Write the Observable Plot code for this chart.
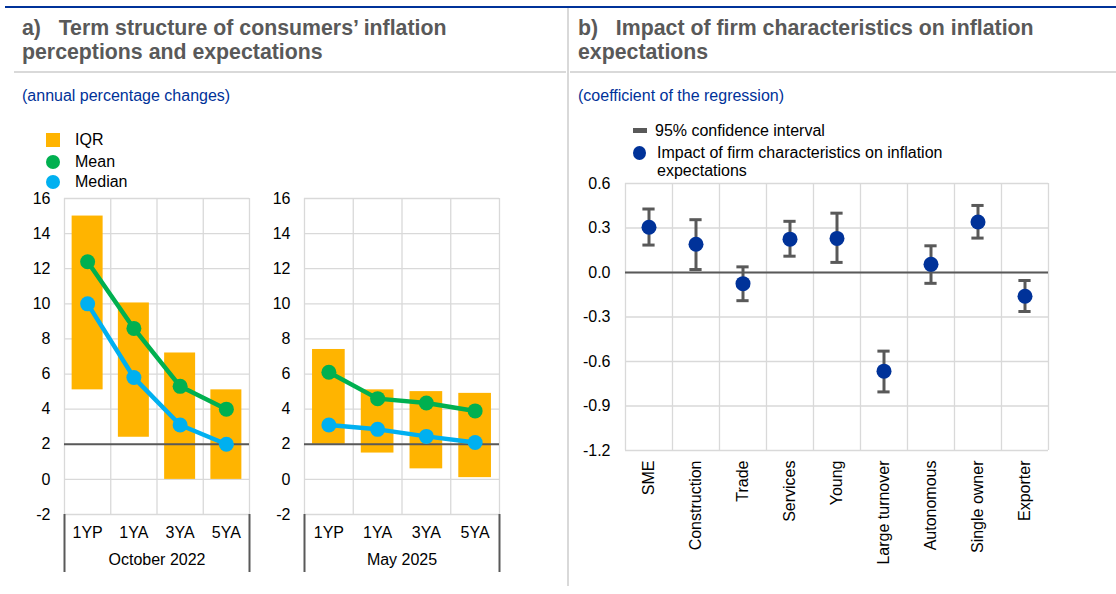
<!DOCTYPE html>
<html><head><meta charset="utf-8">
<script src="https://cdn.jsdelivr.net/npm/d3@7"></script>
<script src="https://cdn.jsdelivr.net/npm/@observablehq/plot@0.6"></script>
<style>
body{margin:0;background:#fff;font-family:"Liberation Sans",Arial,sans-serif;}
#root{position:relative;width:1116px;height:594px;overflow:hidden;background:#fff;}
.abs{position:absolute;}
.title{font-weight:bold;font-size:21.3px;color:#595959;line-height:24px;white-space:nowrap;}
.sub{font-size:16px;color:#003299;line-height:18px;white-space:nowrap;}
.leg{font-size:16px;color:#000;line-height:18px;white-space:nowrap;}
</style></head>
<body><div id="root">
<div class="abs" style="left:5px;top:6px;width:1111px;height:2px;background:#003299"></div>
<div class="abs" style="left:567px;top:8px;width:2px;height:578px;background:#d9d9d9"></div>
<div class="abs" style="left:14px;top:71px;width:552px;height:2px;background:#d9d9d9"></div>
<div class="abs" style="left:570px;top:71px;width:546px;height:2px;background:#d9d9d9"></div>
<div class="abs title" style="left:22px;top:16px">a)&nbsp;&nbsp;&nbsp;Term structure of consumers’ inflation<br>perceptions and expectations</div>
<div class="abs title" style="left:578px;top:16px">b)&nbsp;&nbsp;&nbsp;Impact of firm characteristics on inflation<br>expectations</div>
<div class="abs sub" style="left:22px;top:87px">(annual percentage changes)</div>
<div class="abs sub" style="left:578px;top:87px">(coefficient of the regression)</div>

<div class="abs" style="left:46px;top:133px;width:14px;height:14px;background:#FFB400"></div>
<div class="abs leg" style="left:75px;top:131px">IQR</div>
<div class="abs" style="left:46px;top:155px;width:14px;height:14px;border-radius:50%;background:#00B050"></div>
<div class="abs leg" style="left:75px;top:153px">Mean</div>
<div class="abs" style="left:46px;top:175px;width:14px;height:14px;border-radius:50%;background:#00B0F0"></div>
<div class="abs leg" style="left:75px;top:173px">Median</div>

<div class="abs" style="left:633px;top:128px;width:14px;height:5px;background:#595959"></div>
<div class="abs leg" style="left:655px;top:122px">95% confidence interval</div>
<div class="abs" style="left:633px;top:146px;width:13px;height:14px;border-radius:50%;background:#003299"></div>
<div class="abs leg" style="left:657px;top:144px">Impact of firm characteristics on inflation<br>expectations</div>

<div id="pa1" class="abs" style="left:0px;top:180px"></div>
<div id="pa2" class="abs" style="left:262px;top:180px"></div>
<div id="pb" class="abs" style="left:570px;top:170px"></div>
</div>
<script>
// ---- Panel a data ----
const terms = ["1YP", "1YA", "3YA", "5YA"];
const periods = ["October 2022", "May 2025"];
const yTicksA = [-2, 0, 2, 4, 6, 8, 10, 12, 14, 16];
const targetLine = 2;
const oct22IqrLow = [5.1, 2.4, 0.0, 0.0];
const oct22IqrHigh = [15.0, 10.05, 7.2, 5.1];
const oct22Mean = [12.4, 8.6, 5.3, 4.0];
const oct22Median = [10.0, 5.8, 3.1, 2.0];
const may25IqrLow = [2.0, 1.5, 0.6, 0.1];
const may25IqrHigh = [7.4, 5.1, 5.0, 4.9];
const may25Mean = [6.1, 4.6, 4.35, 3.9];
const may25Median = [3.1, 2.85, 2.45, 2.1];

// ---- Panel b data ----
const firmChars = ["SME", "Construction", "Trade", "Services", "Young", "Large turnover", "Autonomous", "Single owner", "Exporter"];
const coef = [0.305, 0.19, -0.075, 0.225, 0.23, -0.665, 0.055, 0.34, -0.16];
const ciLow = [0.185, 0.02, -0.19, 0.11, 0.068, -0.805, -0.073, 0.232, -0.263];
const ciHigh = [0.428, 0.356, 0.038, 0.345, 0.40, -0.53, 0.18, 0.452, -0.054];
const yTicksB = [-1.2, -0.9, -0.6, -0.3, 0, 0.3, 0.6];

const barHalf = 0.335;
const capHalf = 0.13;
const font = "Liberation Sans, Arial, sans-serif";

function termPanel(lo, hi, mean, median, period, width, marginLeft) {
  const n = terms.length;
  const idx = d3.range(n);
  const rows = idx.map(i => ({i, lo: lo[i], hi: hi[i], mean: mean[i], median: median[i]}));
  const edges = d3.range(n + 1).map(k => k - 0.5);
  const outer = [edges[0], edges[n]];
  return Plot.plot({
    width, height: 400, marginTop: 18, marginBottom: 66, marginLeft, marginRight: 13,
    x: {type: "linear", domain: [-0.5, n - 0.5]},
    y: {domain: [-2, 16]},
    style: {fontFamily: font, fontSize: "16px", color: "#000", background: "transparent", overflow: "visible"},
    marks: [
      Plot.ruleY(yTicksA, {stroke: "#d9d9d9", strokeWidth: 1.3}),
      Plot.ruleX(edges, {stroke: "#d9d9d9", strokeWidth: 1.3}),
      Plot.rect(rows, {x1: d => d.i - barHalf, x2: d => d.i + barHalf, y1: "lo", y2: "hi", fill: "#FFB400"}),
      Plot.ruleY([targetLine], {stroke: "#595959", strokeWidth: 2}),
      Plot.line(rows, {x: "i", y: "mean", stroke: "#00B050", strokeWidth: 4.5}),
      Plot.dot(rows, {x: "i", y: "mean", r: 7.5, fill: "#00B050"}),
      Plot.line(rows, {x: "i", y: "median", stroke: "#00B0F0", strokeWidth: 4.5}),
      Plot.dot(rows, {x: "i", y: "median", r: 7.5, fill: "#00B0F0"}),
      Plot.axisY(yTicksA, {tickSize: 0, tickPadding: 14, tickFormat: d => String(d), label: null, fontSize: 16}),
      Plot.axisX(outer, {tickSize: 58, stroke: "#595959", strokeWidth: 2, tickFormat: () => "", label: null}),
      Plot.axisX(idx, {tickSize: 0, tickPadding: 12, tickFormat: i => terms[i], label: null, fontSize: 16}),
      Plot.text([period], {frameAnchor: "bottom", dy: 50, fontSize: 16, fill: "#000"})
    ]
  });
}

document.getElementById("pa1").append(termPanel(oct22IqrLow, oct22IqrHigh, oct22Mean, oct22Median, periods[0], 262, 64));
document.getElementById("pa2").append(termPanel(may25IqrLow, may25IqrHigh, may25Mean, may25Median, periods[1], 250, 42));

(function () {
  const n = firmChars.length;
  const idx = d3.range(n);
  const rows = idx.map(i => ({i, c: coef[i], lo: ciLow[i], hi: ciHigh[i]}));
  const edges = d3.range(n + 1).map(k => k - 0.5);
  const svg = Plot.plot({
    width: 546, height: 424, marginTop: 13, marginBottom: 144, marginLeft: 55, marginRight: 68,
    x: {type: "linear", domain: [-0.5, n - 0.5]},
    y: {domain: [-1.2, 0.6]},
    style: {fontFamily: font, fontSize: "16px", color: "#000", background: "transparent", overflow: "visible"},
    marks: [
      Plot.ruleY(yTicksB, {stroke: "#d9d9d9", strokeWidth: 1.3}),
      Plot.ruleX(edges, {stroke: "#d9d9d9", strokeWidth: 1.3}),
      Plot.ruleY([0], {stroke: "#595959", strokeWidth: 2}),
      Plot.ruleX(rows, {x: "i", y1: "lo", y2: "hi", stroke: "#595959", strokeWidth: 3}),
      Plot.ruleY(rows, {y: "lo", x1: d => d.i - capHalf, x2: d => d.i + capHalf, stroke: "#595959", strokeWidth: 3}),
      Plot.ruleY(rows, {y: "hi", x1: d => d.i - capHalf, x2: d => d.i + capHalf, stroke: "#595959", strokeWidth: 3}),
      Plot.dot(rows, {x: "i", y: "c", r: 7.5, fill: "#003299"}),
      Plot.axisY(yTicksB, {tickSize: 0, tickPadding: 15, tickFormat: d => d.toFixed(1), label: null, fontSize: 16}),
      Plot.axisX(idx, {tickSize: 0, tickPadding: 10, tickRotate: -90, tickFormat: i => firmChars[i], label: null, fontSize: 16})
    ]
  });
  document.getElementById("pb").append(svg);
})();
</script>
</body></html>
